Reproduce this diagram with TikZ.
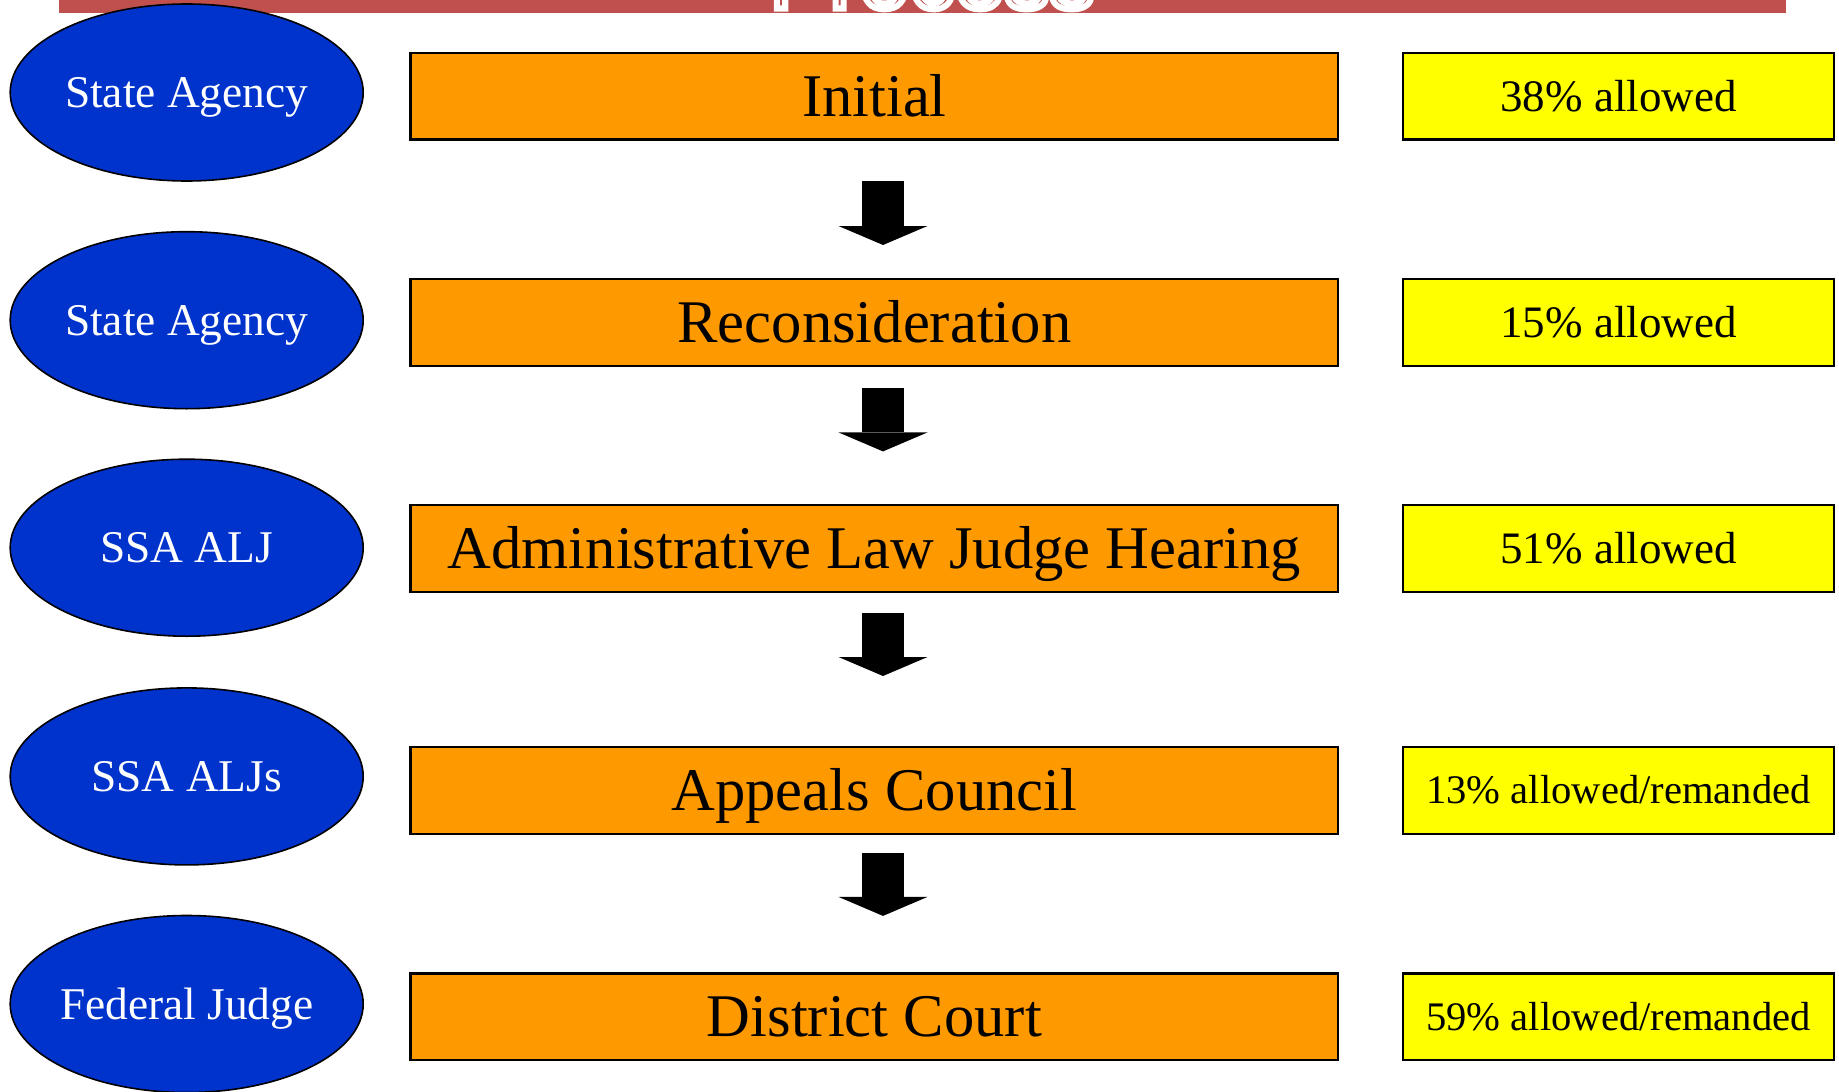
\documentclass[tikz,border=0pt]{standalone}
\usepackage{fontspec}
\setmainfont{Liberation Serif}
\newfontfamily\headfont{Liberation Sans}
\usetikzlibrary{positioning,arrows.meta,shapes.geometric}
\definecolor{bubbleblue}{RGB}{0,51,204}
\definecolor{steporange}{RGB}{255,153,0}
\definecolor{rateyellow}{RGB}{255,255,0}
\definecolor{barred}{RGB}{192,80,77}
% red letters with a white rim
\newcommand\rimtext[1]{{\color{barred}\special{pdf:literal direct 1 1 1 RG 2 Tr 3 w}#1\special{pdf:literal direct 0 Tr 0.4 w}}}

\begin{document}
\begin{tikzpicture}[x=0.5pt,y=-0.5pt,
  who/.style={ellipse,draw=black,line width=0.8pt,fill=bubbleblue,text=white,minimum width=176.5pt,minimum height=88.5pt,inner sep=0pt,inner xsep=-20pt,text height=15pt,text depth=0pt,font=\fontsize{22.7}{26}\selectfont},
  stage/.style={rectangle,draw=black,line width=1.1pt,fill=steporange,minimum width=463.9pt,minimum height=43.4pt,inner sep=0pt,text height=20pt,text depth=0pt,font=\fontsize{30.3}{34}\selectfont},
  rate/.style={rectangle,draw=black,line width=1.1pt,fill=rateyellow,minimum width=215.8pt,minimum height=43.4pt,inner sep=0pt,text height=14.9pt,text depth=0pt,font=\fontsize{22.5}{26}\selectfont},
  rate2/.style={rate,text height=13.4pt,font=\fontsize{20.3}{24}\selectfont},
  down/.style={line width=21pt,-{Triangle[width=44.5pt,length=9.5pt,line width=0pt]}}]
     \useasboundingbox (0,0) rectangle (1839,1091);
     \clip (0,0) rectangle (1839,1091);

     % title bar, cut off at the top
     \fill[barred] (59,0) rectangle (1786,13);
     \node[anchor=base,inner sep=0pt,font=\headfont\fontsize{45}{50}\selectfont] (head) at (932,8.5) {\rimtext{Process}};

     \node[who] (w1) at (186.7,92.5) {State Agency};
     \node[who] (w2) at (186.7,320.2) {State Agency};
     \node[who] (w3) at (186.7,547.7) {SSA ALJ};
     \node[who] (w4) at (186.7,776.4) {SSA ALJs};
     \node[who] (w5) at (186.7,1004) {Federal Judge};

     \node[stage] (s1) at (874.4,96.2) {Initial};
     \node[stage] (s2) at (874.4,322.5) {Reconsideration};
     \node[stage] (s3) at (874.4,548.3) {Administrative Law Judge Hearing};
     \node[stage] (s4) at (874.4,790.5) {Appeals Council};
     \node[stage] (s5) at (874.4,1016.8) {District Court};

     \node[rate] (r1) at (1618.5,96.2) {38\% allowed};
     \node[rate] (r2) at (1618.5,322.5) {15\% allowed};
     \node[rate] (r3) at (1618.5,548.3) {51\% allowed};
     \node[rate2] (r4) at (1618.5,790.5) {13\% allowed/remanded};
     \node[rate2] (r5) at (1618.5,1016.8) {59\% allowed/remanded};

     \draw[down,shorten <=20.2pt,shorten >=16.5pt] ([xshift=4.3pt]s1.south) -- ([xshift=4.3pt]s2.north);
     \draw[down,shorten <=10.5pt,shorten >=26.2pt] ([xshift=4.3pt]s2.south) -- ([xshift=4.3pt]s3.north);
     \draw[down,shorten <=10pt,shorten >=35pt] ([xshift=4.3pt]s3.south) -- ([xshift=4.3pt]s4.north);
     \draw[down,shorten <=8.75pt,shorten >=28.2pt] ([xshift=4.3pt]s4.south) -- ([xshift=4.3pt]s5.north);
\end{tikzpicture}
\end{document}
